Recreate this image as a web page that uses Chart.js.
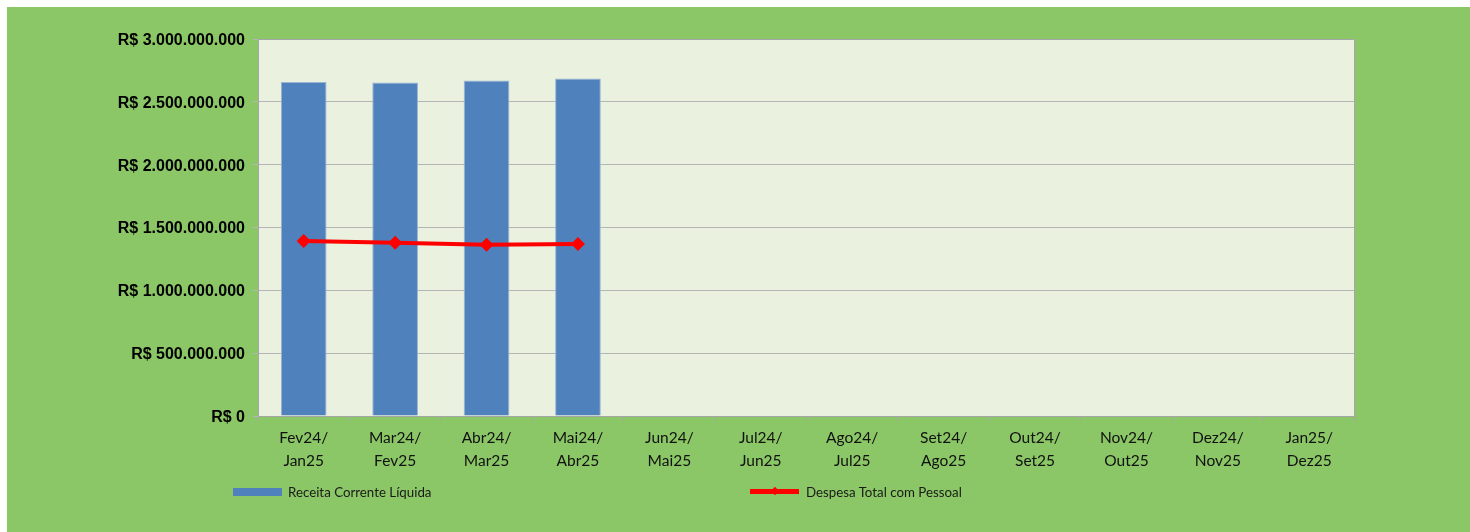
<!DOCTYPE html>
<html>
<head>
<meta charset="utf-8">
<script src="https://cdn.jsdelivr.net/npm/chart.js@4.4.1/dist/chart.umd.min.js"></script>
<style>
  body { margin: 0; background: #fff; width: 1470px; height: 532px; overflow: hidden; }
  #wrap { position: absolute; left: 7px; top: 7px; width: 1463px; height: 525px; background: #8BC766; }
  #rcl { position: absolute; left: 0; top: 0; }
  .leg { position: absolute; font-family: Lato, sans-serif; font-size: 13.3px; color: #1a1a1a; line-height: 14px; }
  .sw { position: absolute; }
</style>
</head>
<body>
<div id="wrap">
  <canvas id="rcl" width="1463" height="525"></canvas>
  <div class="sw" style="left:226px; top:481px; width:49px; height:8px; background:#4F81BD;"></div>
  <div class="leg" style="left:281px; top:478px;">Receita Corrente Líquida</div>
  <div class="sw" style="left:743px; top:482px; width:49px; height:5px; background:#FF0000;"></div>
  <div class="sw" style="left:765px; top:481px; width:6px; height:6px; background:#FF0000; transform:rotate(45deg);"></div>
  <div class="leg" style="left:799px; top:478px;">Despesa Total com Pessoal</div>
</div>
<script>
const periodos = [
  ["Fev24/", "Jan25"], ["Mar24/", "Fev25"], ["Abr24/", "Mar25"], ["Mai24/", "Abr25"],
  ["Jun24/", "Mai25"], ["Jul24/", "Jun25"], ["Ago24/", "Jul25"], ["Set24/", "Ago25"],
  ["Out24/", "Set25"], ["Nov24/", "Out25"], ["Dez24/", "Nov25"], ["Jan25/", "Dez25"]
];
const receitaCorrenteLiquida = [2658000000, 2653000000, 2669000000, 2686000000, null, null, null, null, null, null, null, null];
const despesaPessoal = [1392000000, 1378000000, 1362000000, 1369000000, null, null, null, null, null, null, null, null];

function reais(v) {
  return "R$ " + String(v).replace(/\B(?=(\d{3})+(?!\d))/g, ".");
}

// fundo e borda da área de plotagem
const plotBg = {
  id: "plotBg",
  beforeDraw(chart) {
    const { ctx, chartArea: a } = chart;
    ctx.save();
    ctx.fillStyle = "#EAF1DE";
    ctx.fillRect(a.left, a.top, a.right - a.left, a.bottom - a.top);
    ctx.restore();
  },
  afterDatasetsDraw(chart) {
    const { ctx, chartArea: a } = chart;
    ctx.save();
    ctx.strokeStyle = "#A6A6A6";
    ctx.lineWidth = 1;
    ctx.strokeRect(a.left + 0.5, a.top + 0.5, a.right - a.left - 1, a.bottom - a.top);
    ctx.restore();
  }
};

new Chart(document.getElementById("rcl"), {
  type: "bar",
  data: {
    labels: periodos,
    datasets: [
      {
        type: "line",
        label: "Despesa Total com Pessoal",
        data: despesaPessoal,
        borderColor: "#FF0000",
        backgroundColor: "#FF0000",
        borderWidth: 4,
        pointStyle: "rectRot",
        pointRadius: 7,
        pointBorderWidth: 0,
        tension: 0,
        order: 0
      },
      {
        label: "Receita Corrente Líquida",
        data: receitaCorrenteLiquida,
        backgroundColor: "#4F81BD",
        borderColor: "#9BB5D6",
        borderWidth: 1,
        categoryPercentage: 1,
        barPercentage: 0.5,
        order: 1
      }
    ]
  },
  options: {
    responsive: false,
    animation: false,
    layout: { padding: { left: 0, right: 115, top: 32, bottom: 0 } },
    plugins: { legend: { display: false }, tooltip: { enabled: false } },
    scales: {
      x: {
        afterFit: (s) => { s.height = 116; },
        grid: { offset: true, drawOnChartArea: false, color: "#A6A6A6", tickLength: 5 },
        border: { color: "#A6A6A6" },
        ticks: {
          color: "#111",
          font: { family: "Lato", size: 15.5, lineHeight: 1.45 },
          padding: 6,
          maxRotation: 0,
          autoSkip: false
        }
      },
      y: {
        min: 0,
        max: 3000000000,
        afterFit: (s) => { s.width = 251; },
        grid: { color: "#B5B5B5", tickLength: 5 },
        border: { color: "#A6A6A6" },
        ticks: {
          stepSize: 500000000,
          color: "#000",
          padding: 8,
          labelOffset: 1.5,
          font: { family: "Liberation Sans", size: 16, weight: "bold" },
          callback: (v) => reais(v)
        }
      }
    }
  },
  plugins: [plotBg]
});
</script>
</body>
</html>
